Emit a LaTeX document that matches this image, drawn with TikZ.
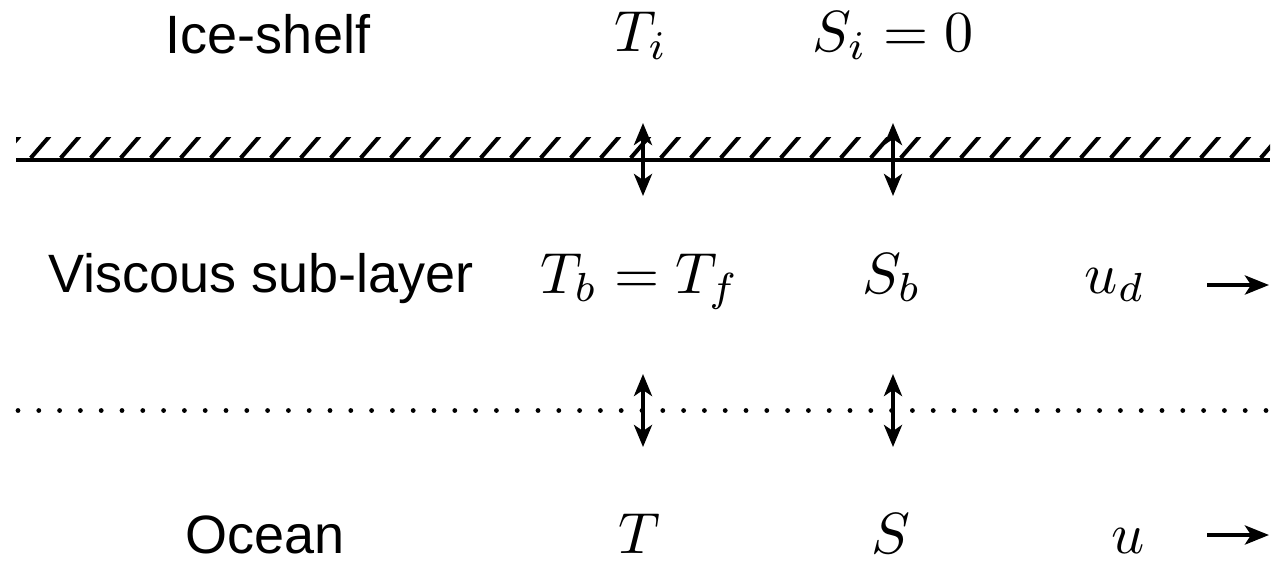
\documentclass[tikz,border=0pt]{standalone}
\usepackage{fontspec}
\usepackage{graphicx}
\setmainfont{Liberation Sans}
\usetikzlibrary{arrows.meta}
\newcommand{\bigmath}[1]{{\fontsize{10pt}{12pt}\selectfont\scalebox{2.9}{$#1$}}}
\tikzset{
  lbl/.style={inner sep=0pt, anchor=base, font=\fontsize{27pt}{32pt}\selectfont},
  flux/.style={line width=2pt, {Stealth[length=11pt,width=9pt,inset=3pt]}-{Stealth[length=11pt,width=9pt,inset=3pt]}},
  vel/.style={line width=2.2pt, -{Stealth[length=12pt,width=9.5pt,inset=3pt]}},
  hatch/.style={line width=2pt},
  wall/.style={line width=2.1pt},
  dotline/.style={line width=2.4pt, line cap=round, dash pattern=on 0pt off 10.4pt}
}
\begin{document}
\begin{tikzpicture}[x=0.5pt,y=-0.5pt]
\useasboundingbox (0,0) rectangle (1278,570);
% labels
\node[lbl] (ice) at (268,53) {Ice-shelf};
\node[lbl] (Ti) at (641,51) {\bigmath{T_i}};
\node[lbl] (Si) at (893,51) {\bigmath{S_i=0}};
\node[lbl] (visc) at (261,292) {Viscous sub-layer};
\node[lbl] (Tb) at (640,293) {\bigmath{T_b=T_f}};
\node[lbl] (Sb) at (892,293) {\bigmath{S_b}};
\node[lbl] (ud) at (1115,293) {\bigmath{u_d}};
\node[lbl] (ocean) at (265,553) {Ocean};
\node[lbl] (T) at (639,553) {\bigmath{T}};
\node[lbl] (S) at (891,553) {\bigmath{S}};
\node[lbl] (u) at (1128,553) {\bigmath{u}};
% ice-shelf base with hatching
\coordinate (wl) at (16,160);
\coordinate (wr) at (1270,160);
\begin{scope}
\clip (16,137) rectangle (1270,157);
\foreach \k in {-1,...,42} {
  \draw[hatch] ({30.7+30*\k},158) -- ({49.7+30*\k},136);
}
\end{scope}
\draw[wall] (wl) -- (wr);
% dotted line
\coordinate (dl) at (18,410.5);
\coordinate (dr) at (1268,410.5);
\draw[dotline] (dl) -- (dr);
% flux arrows
\coordinate (a1t) at (643,123);
\coordinate (a1b) at (643,196);
\coordinate (a2t) at (893,123);
\coordinate (a2b) at (893,196);
\coordinate (a3t) at (643,374);
\coordinate (a3b) at (643,447);
\coordinate (a4t) at (893,374);
\coordinate (a4b) at (893,447);
\draw[flux] (a1t) -- (a1b);
\draw[flux] (a2t) -- (a2b);
\draw[flux] (a3t) -- (a3b);
\draw[flux] (a4t) -- (a4b);
% velocity arrows
\coordinate (v1s) at (1207,285);
\coordinate (v1e) at (1269,285);
\coordinate (v2s) at (1207,535);
\coordinate (v2e) at (1269,535);
\draw[vel] (v1s) -- (v1e);
\draw[vel] (v2s) -- (v2e);
\end{tikzpicture}
\end{document}
